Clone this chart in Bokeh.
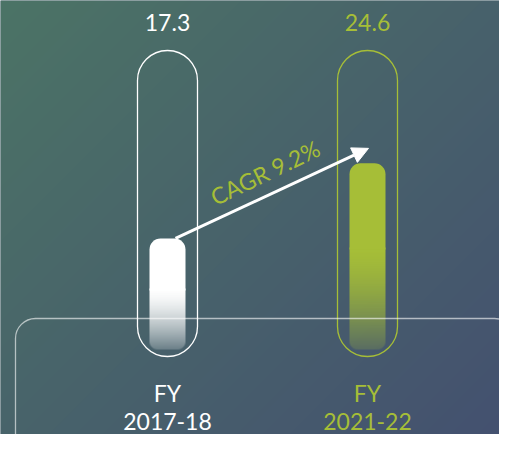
import numpy as np
from bokeh.plotting import figure
from bokeh.models import Range1d, Arrow, NormalHead
from bokeh.core.properties import value
from bokeh.embed import file_html
from bokeh.resources import INLINE

# ---- data ----
prefixes = ["FY", "FY"]
years = ["2017-18", "2021-22"]
values = [17.3, 24.6]
cagr_label = "CAGR 9.2%"

# ---- styles / layout (reference pixel units) ----
GREEN = "#a6be37"
WHITE = "#ffffff"
colors = [WHITE, GREEN]
rgb_colors = [(255, 255, 255), (166, 190, 55)]
FONT = value("Lato")

W, H = 499, 434
OX, OY = 0, 0
REF_W, REF_H = 515, 450
CAT_X0, CAT_STEP = 167, 200
BASE_Y = 416
PX_PER_UNIT = 10.29

def dx(X):
    return (X - CAT_X0) / CAT_STEP

def dy(Y):
    return (BASE_Y - Y) / PX_PER_UNIT

def ypx(v):
    return BASE_Y - v * PX_PER_UNIT

def rgba_image(rgb_arr, alpha_arr):
    h, w = alpha_arr.shape
    out = np.empty((h, w), dtype=np.uint32)
    vw = out.view(dtype=np.uint8).reshape((h, w, 4))
    vw[..., :3] = np.clip(rgb_arr, 0, 255).astype(np.uint8)
    vw[..., 3] = np.clip(alpha_arr * 255, 0, 255).astype(np.uint8)
    return out

p = figure(width=W, height=H, output_backend="svg", toolbar_location=None,
           x_range=Range1d(dx(OX), dx(OX + W)), y_range=Range1d(dy(OY + H), dy(OY)),
           x_axis_location=None, y_axis_location=None, min_border=0)
p.grid.visible = False
p.outline_line_color = None
p.background_fill_color = "#47606a"
p.border_fill_color = "#47606a"

# background gradient
TL = np.array([76, 116, 102], dtype=float)
BR = np.array([68, 80, 112], dtype=float)
cols = OX + np.arange(W) + 0.5
rows_y = OY + H - 0.5 - np.arange(H)
XX, YY = np.meshgrid(cols, rows_y)
t = ((XX + YY) / (REF_W + REF_H))[..., None]
bg = rgba_image(TL * (1 - t) + BR * t, np.ones((H, W)))
p.image_rgba(image=[bg], x=dx(OX), y=dy(OY + H), dw=W / CAT_STEP, dh=H / PX_PER_UNIT)

# pill outlines
PILL_HALF = 30 / CAT_STEP
idx = list(range(len(values)))
p.quad(left=[i - PILL_HALF for i in idx], right=[i + PILL_HALF for i in idx],
       top=dy(50), bottom=dy(356), fill_color=None, line_color=colors,
       line_width=1.3, border_radius=30)

# bars: solid top with rounded corners, fading lower part as an image
BAR_W = 36
BAR_HALF = BAR_W / 2 / CAT_STEP
FLOOR_Y = 349
CORNER = 8
for i, (v, c, rgbc) in enumerate(zip(values, colors, rgb_colors)):
    top_px = ypx(v)
    fs = int(round(top_px + 0.45 * (FLOOR_Y - top_px)))
    n = FLOOR_Y - fs
    # row 0 = bottom of image
    s = 1 - (np.arange(n) + 0.5) / n            # 0 at top of fade, 1 at floor
    alpha_col = 1 - 0.8 * s ** 1.5
    alpha = np.repeat(alpha_col[:, None], BAR_W, axis=1)
    yy, xx = np.mgrid[0:n, 0:BAR_W]
    cx = np.where(xx < CORNER, CORNER - 0.5, np.where(xx >= BAR_W - CORNER, BAR_W - CORNER - 0.5, xx))
    cy = np.where(yy < CORNER, CORNER - 0.5, yy)
    d = np.sqrt((xx - cx) ** 2 + (yy - cy) ** 2)
    alpha = alpha * np.clip(CORNER - d + 0.5, 0, 1)
    rgb = np.broadcast_to(np.array(rgbc, dtype=float), (n, BAR_W, 3))
    p.image_rgba(image=[rgba_image(rgb, alpha)], x=i - BAR_HALF, y=dy(FLOOR_Y),
                 dw=BAR_W / CAT_STEP, dh=n / PX_PER_UNIT)
    p.quad(left=[i - BAR_HALF], right=[i + BAR_HALF], top=[v], bottom=[dy(fs + 2)],
           fill_color=c, line_color=None, border_radius=(11, 11, 0, 0))

# bottom rounded frame
p.quad(left=dx(15), right=dx(514), top=dy(318), bottom=dy(452), fill_color=None,
       line_color="white", line_alpha=0.6, line_width=1.3, border_radius=20)

# arrow
xs, ys = 0 + 8 / CAT_STEP, values[0]
xe, ye = 1 + 1 / CAT_STEP, values[1] + 15 / PX_PER_UNIT
p.add_layout(Arrow(end=NormalHead(size=16, fill_color="white", line_color="white", line_width=1),
                   x_start=xs, y_start=ys, x_end=xe, y_end=ye,
                   line_color="white", line_width=3))
p.text(x=[(xs + xe) / 2], y=[(ys + ye) / 2], text=[cagr_label], angle=0.45,
       x_offset=-7, y_offset=-21, text_font=FONT, text_font_size="23px",
       text_color=GREEN, text_align="center", text_baseline="middle")

# value labels
p.text(x=idx, y=[dy(22)] * len(idx), text=[f"{v:.1f}" for v in values],
       text_font=FONT, text_font_size="23px", text_color=colors,
       text_align="center", text_baseline="middle")

# category labels
p.text(x=idx, y=[dy(392)] * len(idx), text=prefixes, text_font=FONT,
       text_font_size="23px", text_color=colors, text_align="center",
       text_baseline="middle")
p.text(x=idx, y=[dy(421)] * len(idx), text=years, text_font=FONT,
       text_font_size="23px", text_color=colors, text_align="center",
       text_baseline="middle")

# diamond pointers
p.scatter(x=idx, y=[dy(450)] * len(idx), marker="diamond", size=17,
          fill_color=colors, line_color=None)

open("out.html", "w").write(file_html(p, INLINE))
